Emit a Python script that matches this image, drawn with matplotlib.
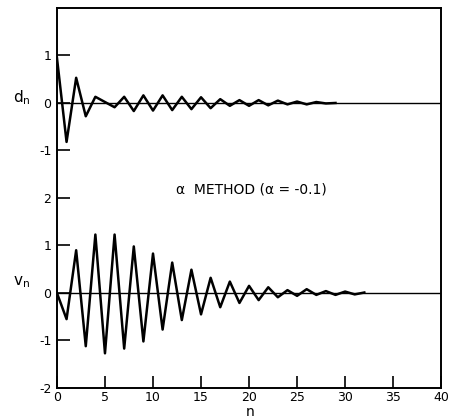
import matplotlib
matplotlib.use("Agg")
import matplotlib.pyplot as plt
import numpy as np

# d_n values (top trace) and v_n values (bottom trace)
d_values = [0.95, -0.82, 0.53, -0.28, 0.13, 0.02, -0.09, 0.13, -0.17, 0.16,
            -0.16, 0.16, -0.15, 0.13, -0.13, 0.12, -0.11, 0.08, -0.06, 0.06,
            -0.06, 0.06, -0.05, 0.05, -0.03, 0.03, -0.03, 0.02, -0.01, 0.0]
v_values = [0.0, -0.55, 0.9, -1.12, 1.23, -1.27, 1.23, -1.17, 0.98, -1.02,
            0.83, -0.77, 0.64, -0.57, 0.49, -0.45, 0.32, -0.30, 0.24, -0.21,
            0.15, -0.15, 0.12, -0.09, 0.06, -0.06, 0.08, -0.04, 0.04, -0.04,
            0.03, -0.03, 0.01]
d_offset = 4
ytick_pos = [-2, -1, 0, 1, 2, 3, 4, 5]
ytick_labels = ['-2', '-1', '0', '1', '2', '-1', '0', '1']
xticks = [0, 5, 10, 15, 20, 25, 30, 35, 40]
title_text = "\u03b1  METHOD (\u03b1 = -0.1)"

fig = plt.figure(figsize=(4.52, 4.19), dpi=100)
ax = fig.add_axes([0.126, 0.074, 0.85, 0.907])

n_d = np.arange(len(d_values))
n_v = np.arange(len(v_values))
ax.axhline(0, color='black', lw=1.0)
ax.axhline(d_offset, color='black', lw=1.0)
ax.plot(n_d, np.array(d_values) + d_offset, color='black', lw=1.8)
ax.plot(n_v, v_values, color='black', lw=1.8)

ax.set_xlim(0, 40)
ax.set_ylim(-2, 6)
ax.set_xticks(xticks)
ax.set_xticklabels([str(x) for x in xticks])
ax.set_yticks(ytick_pos)
ax.set_yticklabels(ytick_labels)
ax.tick_params(direction='in', length=9, width=1.2, labelsize=9, pad=4)
ax.tick_params(axis='x', pad=2)
for s in ax.spines.values():
    s.set_linewidth(1.4)

fig.text(0.553, 0.0, 'n', fontsize=10, ha='center', va='bottom')
fig.text(0.028, 0.768, r'd$_\mathregular{n}$', fontsize=11, va='center')
fig.text(0.028, 0.327, r'v$_\mathregular{n}$', fontsize=11, va='center')
ax.text(20.2, 2.17, title_text, fontsize=10, ha='center', va='center')

fig.savefig('out.png', dpi=100)
